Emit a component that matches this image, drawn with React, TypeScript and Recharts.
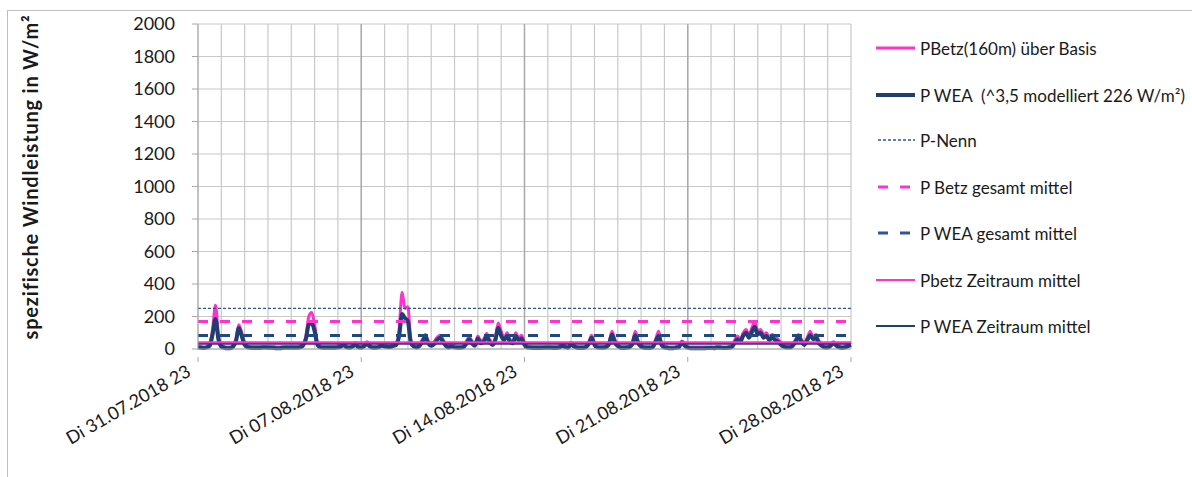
import React from "react";
import {
  LineChart,
  Line,
  XAxis,
  YAxis,
  CartesianGrid,
  ReferenceLine,
} from "recharts";

// 3-hourly samples, 8 per day, 31.07.2018 23h .. 28.08.2018 23h
const pBetz: number[] = [
  20, 15, 12, 15, 30, 120, 270, 90, // d0
  25, 15, 12, 12, 25, 60, 150, 100, // d1
  40, 20, 15, 15, 15, 15, 15, 15, // d2
  15, 15, 15, 12, 12, 15, 15, 15, // d3
  15, 15, 15, 20, 30, 80, 200, 225, // d4
  150, 40, 20, 15, 15, 15, 15, 15, // d5
  20, 25, 35, 20, 15, 25, 40, 20, // d6
  15, 30, 45, 25, 15, 15, 20, 30, // d7
  25, 20, 20, 30, 40, 120, 350, 250, // d8
  260, 60, 25, 20, 30, 60, 90, 50, // d9
  30, 45, 70, 85, 60, 30, 20, 25, // d10
  20, 15, 15, 20, 45, 75, 50, 30, // d11
  80, 50, 60, 95, 60, 40, 70, 160, // d12
  110, 70, 100, 60, 50, 100, 70, 85, // d13
  40, 20, 15, 15, 15, 15, 15, 15, // d14
  15, 15, 15, 15, 20, 30, 20, 15, // d15
  40, 25, 15, 15, 15, 20, 40, 85, // d16
  40, 20, 15, 15, 20, 40, 110, 60, // d17
  30, 15, 15, 15, 20, 40, 110, 50, // d18
  25, 15, 15, 15, 20, 60, 110, 40, // d19
  20, 15, 12, 12, 15, 20, 50, 30, // d20
  15, 12, 12, 12, 12, 12, 12, 12, // d21
  12, 12, 15, 15, 12, 12, 15, 20, // d22
  50, 80, 60, 100, 120, 90, 130, 170, // d23
  110, 120, 90, 100, 70, 90, 75, 60, // d24
  40, 25, 20, 20, 30, 60, 90, 60, // d25
  40, 70, 110, 75, 90, 50, 30, 20, // d26
  20, 30, 45, 30, 20, 15, 20, 30, // d27
  40,
];

const pWea: number[] = [
  10, 8, 6, 10, 20, 90, 185, 60, // d0
  15, 8, 5, 5, 15, 45, 130, 80, // d1
  25, 12, 8, 6, 6, 6, 8, 10, // d2
  8, 8, 6, 5, 5, 6, 8, 8, // d3
  8, 8, 8, 10, 20, 60, 150, 160, // d4
  110, 25, 10, 8, 8, 8, 8, 8, // d5
  10, 15, 25, 10, 8, 15, 25, 12, // d6
  8, 18, 30, 15, 8, 8, 12, 20, // d7
  15, 12, 12, 20, 25, 80, 215, 190, // d8
  170, 40, 15, 10, 20, 45, 75, 35, // d9
  20, 30, 55, 70, 45, 20, 10, 15, // d10
  10, 8, 8, 12, 30, 60, 35, 20, // d11
  65, 35, 45, 75, 45, 25, 55, 130, // d12
  80, 55, 80, 45, 35, 80, 55, 65, // d13
  25, 10, 8, 6, 6, 6, 6, 8, // d14
  8, 8, 6, 6, 10, 20, 12, 8, // d15
  30, 15, 8, 6, 6, 12, 30, 70, // d16
  25, 10, 8, 8, 12, 30, 90, 40, // d17
  18, 8, 6, 8, 12, 30, 85, 35, // d18
  15, 8, 6, 6, 12, 45, 80, 25, // d19
  10, 6, 5, 5, 8, 12, 40, 20, // d20
  8, 5, 5, 5, 5, 5, 5, 6, // d21
  6, 5, 8, 8, 6, 6, 8, 12, // d22
  35, 60, 45, 80, 100, 70, 105, 135, // d23
  90, 100, 70, 80, 55, 70, 55, 45, // d24
  25, 15, 10, 10, 20, 45, 75, 45, // d25
  25, 55, 85, 60, 70, 35, 20, 10, // d26
  10, 20, 35, 20, 10, 6, 10, 18, // d27
  25,
];

const weekLabels: string[] = [
  "Di 31.07.2018 23",
  "Di 07.08.2018 23",
  "Di 14.08.2018 23",
  "Di 21.08.2018 23",
  "Di 28.08.2018 23",
];

const yTicks: number[] = [0, 200, 400, 600, 800, 1000, 1200, 1400, 1600, 1800, 2000];

const pNenn = 250;
const pBetzGesamtMittel = 170;
const pWeaGesamtMittel = 83;
const pBetzZeitraumMittel = 42;
const pWeaZeitraumMittel = 33;

const legendItems = [
  { label: "PBetz(160m) über Basis", color: "#FF33CC", width: 3, dash: "" },
  { label: "P WEA  (^3,5 modelliert 226 W/m²)", color: "#1F3F70", width: 4, dash: "" },
  { label: "P-Nenn", color: "#2F5597", width: 1.3, dash: "3 2" },
  { label: "P Betz gesamt mittel", color: "#FF33CC", width: 3, dash: "10 12" },
  { label: "P WEA gesamt mittel", color: "#2F5597", width: 3, dash: "10 12" },
  { label: "Pbetz Zeitraum mittel", color: "#FF33CC", width: 2, dash: "" },
  { label: "P WEA Zeitraum mittel", color: "#1F3F70", width: 2, dash: "" },
];

const SAMPLES_PER_DAY = 8;
const data = pBetz.map((v, i) => ({ t: i, betz: v, wea: pWea[i] }));
const dayTicks = Array.from({ length: 29 }, (_, d) => d * SAMPLES_PER_DAY);
const weekTicks = weekLabels.map((_, k) => k * 7 * SAMPLES_PER_DAY);

const FONT = "Lato, 'Open Sans', sans-serif";

const XTick = (props: any) => {
  const { x, y, payload } = props;
  const v = payload.value as number;
  const k = weekTicks.indexOf(v);
  if (k < 0) return null;
  return (
    <g transform={`translate(${x},${y})`}>
      <line x1={0} y1={0} x2={0} y2={5} stroke="#a6a6a6" />
      <text
        x={0}
        y={0}
        transform="translate(-6,18) rotate(-30)"
        textAnchor="end"
        fontSize={18}
        fontFamily={FONT}
        fill="#1a1a1a"
      >
        {weekLabels[k]}
      </text>
    </g>
  );
};

const YLabel = () => (
  <text
    x={30}
    y={177}
    transform="rotate(-90 30 177)"
    textAnchor="middle"
    dominantBaseline="central"
    fontSize={20}
    letterSpacing={0.8}
    fontWeight="bold"
    fontFamily={FONT}
    fill="#1a1a1a"
  >
    spezifische Windleistung in W/m²
  </text>
);

export default function App() {
  const rowY = [48, 95, 140, 187, 233, 280, 326];
  return (
    <div
      style={{
        position: "absolute",
        left: 0,
        top: 0,
        width: 1192,
        height: 477,
        background: "#fff",
        overflow: "hidden",
      }}
    >
      <div
        style={{
          position: "absolute",
          left: 7,
          top: 10,
          width: 1200,
          height: 500,
          borderLeft: "1px solid #bfbfbf",
          borderTop: "1px solid #bfbfbf",
        }}
      />
      <div style={{ position: "absolute", left: 0, top: 0 }}>
        <LineChart
          width={1192}
          height={477}
          data={data}
          margin={{ top: 24, right: 341, bottom: 0, left: 0 }}
        >
          <CartesianGrid stroke="#c8c8c8" strokeWidth={1.2} />
          <XAxis
            dataKey="t"
            type="number"
            domain={[0, 224]}
            ticks={dayTicks}
            interval={0}
            height={128}
            tick={<XTick />}
            tickLine={false}
            axisLine={{ stroke: "#a6a6a6" }}
          />
          <YAxis
            type="number"
            domain={[0, 2000]}
            ticks={yTicks}
            interval={0}
            width={198}
            tickSize={6}
            tickMargin={17}
            tick={{ fontSize: 18, fontFamily: FONT, fill: "#1a1a1a" }}
            tickLine={{ stroke: "#a6a6a6" }}
            axisLine={{ stroke: "#a6a6a6" }}
            label={<YLabel />}
          />
          {weekTicks.slice(1, 4).map((w) => (
            <ReferenceLine key={w} x={w} stroke="#a8a8a8" strokeWidth={1.4} />
          ))}
          <Line
            dataKey="betz"
            stroke="#FF33CC"
            strokeWidth={3}
            dot={false}
            type="monotone"
            isAnimationActive={false}
          />
          <Line
            dataKey="wea"
            stroke="#1F3F70"
            strokeWidth={4}
            dot={false}
            type="monotone"
            isAnimationActive={false}
          />
          <ReferenceLine y={pNenn} stroke="#2F5597" strokeWidth={1.3} strokeDasharray="3 2" />
          <ReferenceLine y={pBetzGesamtMittel} stroke="#FF33CC" strokeWidth={3} strokeDasharray="10 12" />
          <ReferenceLine y={pWeaGesamtMittel} stroke="#1F4A80" strokeWidth={3} strokeDasharray="10 12" />
          <ReferenceLine y={pWeaZeitraumMittel} stroke="#1F3F70" strokeWidth={2} />
          <ReferenceLine y={pBetzZeitraumMittel} stroke="#FF33CC" strokeWidth={2} />
        </LineChart>
      </div>
      {legendItems.map((it, i) => (
        <div
          key={it.label}
          style={{
            position: "absolute",
            left: 876,
            top: rowY[i] - 12,
            height: 24,
            display: "flex",
            alignItems: "center",
            whiteSpace: "pre",
          }}
        >
          <svg width={44} height={10} style={{ display: "block" }}>
            <line
              x1={it.dash ? 2 : 0}
              y1={5}
              x2={39}
              y2={5}
              stroke={it.color}
              strokeWidth={it.width}
              strokeDasharray={it.dash || undefined}
            />
          </svg>
          <span style={{ fontFamily: FONT, fontSize: 17, color: "#1a1a1a" }}>{it.label}</span>
        </div>
      ))}
    </div>
  );
}
